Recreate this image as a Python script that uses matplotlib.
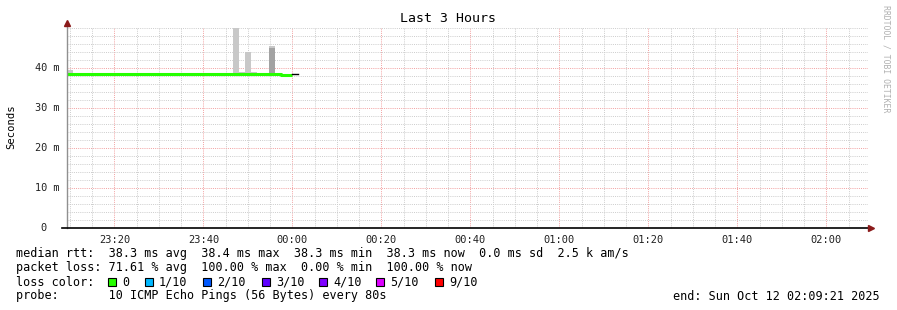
import numpy as np
import matplotlib.pyplot as plt
from matplotlib.patches import Rectangle
from matplotlib.lines import Line2D

plt.rcParams['font.family'] = ['DejaVu Sans Mono']

# ---- data (minutes relative to 00:00, values in ms) ----
t_start = -50.65          # 23:09:21
t_end = 129.35            # 02:09:21
step = 80 / 60.0          # 80 s sampling

median_rtt = [38.3, 38.3, 38.3, 38.3, 38.3, 38.3, 38.3, 38.3, 38.3, 38.3,
              38.3, 38.3, 38.3, 38.3, 38.3, 38.3, 38.3, 38.3, 38.3, 38.3,
              38.3, 38.3, 38.3, 38.3, 38.3, 38.3, 38.3, 38.3, 38.3, 38.3,
              38.3, 38.3, 38.3, 38.3, 38.3, 38.3, 38.2, 38.1]
last_sample = 38.3

smoke_start = [-50.65, -13.3, -11.95, -10.6, -9.25, -5.2]
smoke_top = [39.5, 50.5, 38.8, 44.0, 38.8, 45.5]
smoke_dark_start = [-5.2]
smoke_dark_top = [45.0]

xtick_pos = [-40, -20, 0, 20, 40, 60, 80, 100, 120]
xtick_labels = ['23:20', '23:40', '00:00', '00:20', '00:40', '01:00', '01:20', '01:40', '02:00']
ytick_pos = [0, 10, 20, 30, 40]
ytick_labels = ['0', '10 m', '20 m', '30 m', '40 m']

rtt_avg, rtt_max, rtt_min, rtt_now, rtt_sd, rtt_am = 38.3, 38.4, 38.3, 38.3, 0.0, '2.5 k'
loss_avg, loss_max, loss_min, loss_now = 71.61, 100.00, 0.00, 100.00
loss_labels = ['0', '1/10', '2/10', '3/10', '4/10', '5/10', '9/10']
loss_colors = ['#26ff00', '#00b8ff', '#0059ff', '#5e00ff', '#7e00ff', '#dd00ff', '#ff0000']

W, H = 897, 310
fig = plt.figure(figsize=(W / 100, H / 100), dpi=100)
fig.patch.set_facecolor('white')

def fx(px):
    return px / W

def fy(py):
    return 1 - py / H

ax = fig.add_axes([fx(67), fy(228), (868 - 67) / W, (228 - 27.5) / H])
ax.set_xlim(t_start, t_end)
ax.set_ylim(0, 50)
for s in ax.spines.values():
    s.set_visible(False)

# grid
ax.set_xticks(xtick_pos)
ax.set_xticks(np.arange(-50, 130, 5), minor=True)
ax.set_yticks(ytick_pos)
ax.set_yticks(np.arange(0, 51, 2), minor=True)
ax.grid(which='minor', color='#cccccc', linestyle=(0, (1, 1.2)), lw=0.7)
ax.grid(which='major', color='#f2a0a0', linestyle=(0, (1, 1.2)), lw=0.7)
ax.set_axisbelow(True)
ax.tick_params(which='both', length=0, labelleft=False)
ax.set_xticklabels(xtick_labels, fontsize=7.5, color='#202020')
ax.tick_params(axis='x', pad=5)

for v, lab in zip(ytick_pos, ytick_labels):
    ax.text(-0.009 if lab != '0' else -0.025, v, lab, transform=ax.get_yaxis_transform(),
            ha='right', va='center', fontsize=7.4, color='#202020')

# smoke
ax.bar(smoke_start, np.array(smoke_top) - 38.3, bottom=38.3, width=step, align='edge',
       color='#c8c8c8', lw=0, zorder=2)
ax.bar(smoke_dark_start, np.array(smoke_dark_top) - 38.3, bottom=38.3, width=step, align='edge',
       color='#a2a2a2', lw=0, zorder=2)

# median line
t = t_start + step * np.arange(len(median_rtt) + 1)
ax.plot(t, median_rtt + [median_rtt[-1]], drawstyle='steps-post', color='#26ff00',
        lw=2.2, zorder=3, solid_capstyle='butt')
ax.plot([t[-1], t[-1] + step], [last_sample, last_sample], color='black', lw=1, zorder=3)

# axes lines + arrows
fig.add_artist(Line2D([fx(67), fx(67)], [fy(228), fy(22)], color='#909090', lw=1))
fig.add_artist(Line2D([fx(62), fx(869)], [fy(228), fy(228)], color='black', lw=1.2))
fig.add_artist(Line2D([fx(67)], [fy(23)], marker='^', ms=5, color='#8b1a1a', lw=0))
fig.add_artist(Line2D([fx(871)], [fy(228)], marker='>', ms=5, color='#8b1a1a', lw=0))

# titles
fig.text(fx(448), fy(19), 'Last 3 Hours', ha='center', va='center', fontsize=9.5)
fig.text(fx(11), fy(127), 'Seconds', ha='center', va='center', rotation=90, fontsize=7.6)
fig.text(fx(886), fy(5), 'RRDTOOL / TOBI OETIKER', ha='center', va='top', rotation=-90,
         fontsize=5.9, color='#b0b0b0')

# legend
fs = 8.5
fig.text(fx(16), fy(254),
         f'median rtt:  {rtt_avg:.1f} ms avg  {rtt_max:.1f} ms max  {rtt_min:.1f} ms min  '
         f'{rtt_now:.1f} ms now  {rtt_sd:.1f} ms sd  {rtt_am} am/s',
         ha='left', va='center', fontsize=fs)
fig.text(fx(16), fy(268),
         f'packet loss: {loss_avg:.2f} % avg  {loss_max:.2f} % max  {loss_min:.2f} % min  '
         f'{loss_now:.2f} % now', ha='left', va='center', fontsize=fs)
fig.text(fx(16), fy(282), 'loss color:', ha='left', va='center', fontsize=fs)
box_x = [108, 145, 203, 262, 319, 376, 435]
for bx, lab, col in zip(box_x, loss_labels, loss_colors):
    fig.add_artist(Rectangle((fx(bx), fy(286)), 8 / W, 8 / H, facecolor=col,
                             edgecolor='black', lw=0.8, transform=fig.transFigure))
    fig.text(fx(bx + 14), fy(282), lab, ha='left', va='center', fontsize=fs)
fig.text(fx(16), fy(296), 'probe:       10 ICMP Echo Pings (56 Bytes) every 80s',
         ha='left', va='center', fontsize=fs)
fig.text(fx(880), fy(296), 'end: Sun Oct 12 02:09:21 2025', ha='right', va='center', fontsize=fs)

fig.savefig('out.png', dpi=100, facecolor='white')
